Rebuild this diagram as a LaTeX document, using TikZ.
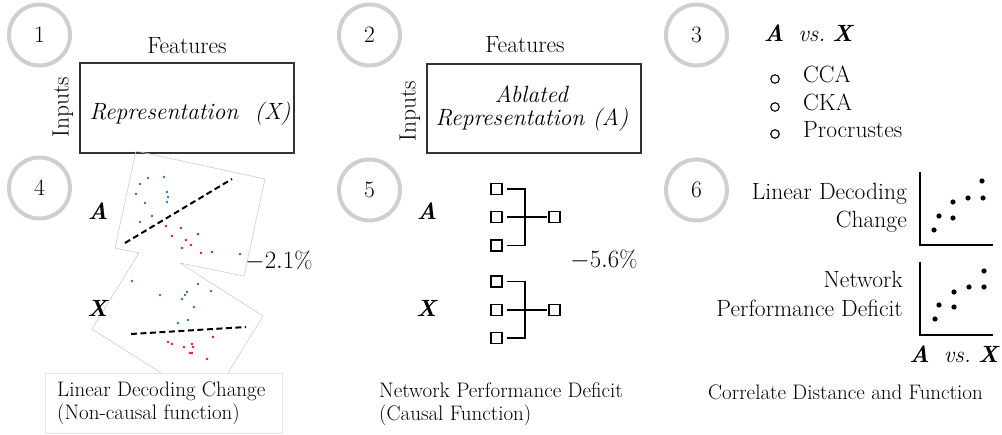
\documentclass[tikz,border=0pt]{standalone}
\usepackage{fontspec}
\definecolor{numgray}{HTML}{CFCFCF}
\definecolor{dotblue}{HTML}{1F77B4}
\definecolor{dotred}{HTML}{FF1010}
\definecolor{framegray}{HTML}{CCCCCC}
\definecolor{capgray}{HTML}{E6E6E6}
\definecolor{boxgray}{HTML}{333333}
\newcommand\mainfs{\fontsize{23.5}{27}\selectfont}
\newcommand\capfs{\fontsize{21}{23.5}\selectfont}
\newcommand\bA{\textbf{\textit{A}}}
\newcommand\bX{\textbf{\textit{X}}}
\tikzset{
  num/.style={circle, draw=numgray, line width=4pt, minimum size=61pt, inner sep=0pt, font=\mainfs},
  txt/.style={inner sep=0pt, font=\mainfs, anchor=base},
  captxt/.style={inner sep=0pt, font=\capfs, align=left, anchor=north west},
  repbox/.style={draw=boxgray, line width=1.5pt, inner sep=0pt},
  frame/.style={draw=framegray, line width=0.6pt},
  sep/.style={draw=black, line width=2pt, dash pattern=on 6pt off 3.5pt},
  unit/.style={draw=black, line width=1.8pt, minimum size=11pt, inner sep=0pt},
  wire/.style={draw=black, line width=1.8pt},
  axis/.style={draw=black, line width=2pt},
  bullet/.style={circle, draw=black, line width=1.1pt, minimum size=8.5pt, inner sep=0pt},
}
\begin{document}
\begin{tikzpicture}[x=1pt,y=-1pt]
\useasboundingbox (0,0) rectangle (1002,435);

% number circles
\node[num] (n1) at (39.5,35) {1};
\node[num] (n2) at (369.5,35) {2};
\node[num] (n3) at (696.5,35) {3};
\node[num] (n4) at (39.5,188) {4};
\node[num] (n5) at (369.5,190) {5};
\node[num] (n6) at (696.5,190) {6};

% panel 1
\node[repbox, minimum width=214pt, minimum height=90pt] (box1) at (187,108) {};
\node[txt] (f1) at (187,54) {Features};
\node[txt, anchor=center, rotate=90] (in1) at (63,107) {Inputs};
\node[txt] (r1) at (190,120) {\textit{Representation\ \ (X)}};

% panel 2
\node[repbox, minimum width=214pt, minimum height=89pt] (box2) at (534,108.5) {};
\node[txt] (f2) at (525,53) {Features};
\node[txt, anchor=center, rotate=90] (in2) at (410,111) {Inputs};
\node[txt] (r2a) at (532,103) {\textit{Ablated}};
\node[txt] (r2b) at (532,126) {\textit{Representation (A)}};

% panel 3
\node[txt] (vs3) at (809,42) {\bA\ \ \textit{vs.}\ \bX};
\node[bullet] (b1) at (775,79) {};
\node[bullet] (b2) at (775,107) {};
\node[bullet] (b3) at (775,134) {};
\node[txt, anchor=base west] (m1) at (803,83) {CCA};
\node[txt, anchor=base west] (m2) at (803,111) {CKA};
\node[txt, anchor=base west] (m3) at (803,138) {Procrustes};

% panel 4 frames
\draw[frame] (180,263) -- (263,316) -- (228,373);
\draw[frame] (139,253) -- (92,329) -- (161,373);
\draw[frame] (139,253) -- (115,248) -- (136,151) -- (265,179) -- (244,276) -- (180,263);
\draw[sep] (125,243) -- (232,179);
\draw[sep] (131,334) -- (246,327);
\foreach \p in {(148,178),(164,177),(140,184),(167,192),(136,194),(168,197),(167,202),(145,203),(152,216),(140,222),
                (132,281),(160,295),(198,284),(211,291),(187,292),(185,295),(182,299),(194,307),(188,320),(178,323)}
  \fill[dotblue] \p circle (1.4pt);
\foreach \p in {(166,226),(181,228),(172,236),(198,234),(186,240),(191,245),(182,248),(201,253),(212,252),(240,254),
                (213,337),(168,342),(172,344),(184,347),(192,344),(193,347),(190,353),(192,353),(207,359)}
  \fill[dotred] \p circle (1.4pt);
\node[txt] (a4) at (98,220) {\bA};
\node[txt] (x4) at (98,317) {\bX};
\node[txt] (d4) at (279,269) {$-2.1\%$};
\draw[draw=capgray, fill=white, line width=0.8pt] (45,373) rectangle (282,433);
\node[captxt, anchor=base west] (c4) at (57,420) {Linear Decoding Change\\(Non-causal function)};

% panel 5
\node[txt] (a5) at (427,220) {\bA};
\node[txt] (x5) at (427,317) {\bX};
\node[unit] (a1) at (496.5,189) {};
\node[unit] (a2) at (496.5,217) {};
\node[unit] (a3) at (496.5,245.5) {};
\node[unit] (ao) at (554.5,217) {};
\coordinate (ja) at (525,217);
\draw[wire, shorten <=4pt] (a1) -| (ja);
\draw[wire, shorten <=4pt] (a3) -| (ja);
\draw[wire, shorten <=4pt, shorten >=1pt] (a2) -- (ao);
\node[unit] (x1) at (496.5,281.5) {};
\node[unit] (x2) at (496.5,310) {};
\node[unit] (x3) at (496.5,338) {};
\node[unit] (xo) at (554.5,310) {};
\coordinate (jx) at (525,310);
\draw[wire, shorten <=4pt] (x1) -| (jx);
\draw[wire, shorten <=4pt] (x3) -| (jx);
\draw[wire, shorten <=4pt, shorten >=1pt] (x2) -- (xo);
\node[txt] (d5) at (604,268) {$-5.6\%$};
\node[captxt, anchor=base west] (c5) at (379,421) {Network Performance Deficit\\(Causal Function)};

% panel 6
\node[txt, anchor=base east] (l6a) at (907,200) {Linear Decoding};
\node[txt, anchor=base east] (l6b) at (907,228) {Change};
\node[txt, anchor=base east] (l6c) at (903,288) {Network};
\node[txt, anchor=base east] (l6d) at (903,317) {Performance Deficit};
\coordinate (p1top) at (920,172);
\coordinate (p1end) at (993,245);
\draw[axis] (p1top) |- (p1end);
\coordinate (p2top) at (920,262);
\coordinate (p2end) at (993,335);
\draw[axis] (p2top) |- (p2end);
\foreach \p in {(982,181),(968,198),(983,198),(953,202),(939,216),(953,218),(934,230),
                (984,271),(969,287),(984,287),(954,292),(939,305),(954,307),(935,319)}
  \fill[black] \p circle (2.6pt);
\node[txt, anchor=base east] (vs6) at (1000,363) {\bA\ \ \textit{vs.}\ \bX};
\node[captxt, anchor=base west] (c6) at (708,400) {Correlate Distance and Function};
\end{tikzpicture}
\end{document}
